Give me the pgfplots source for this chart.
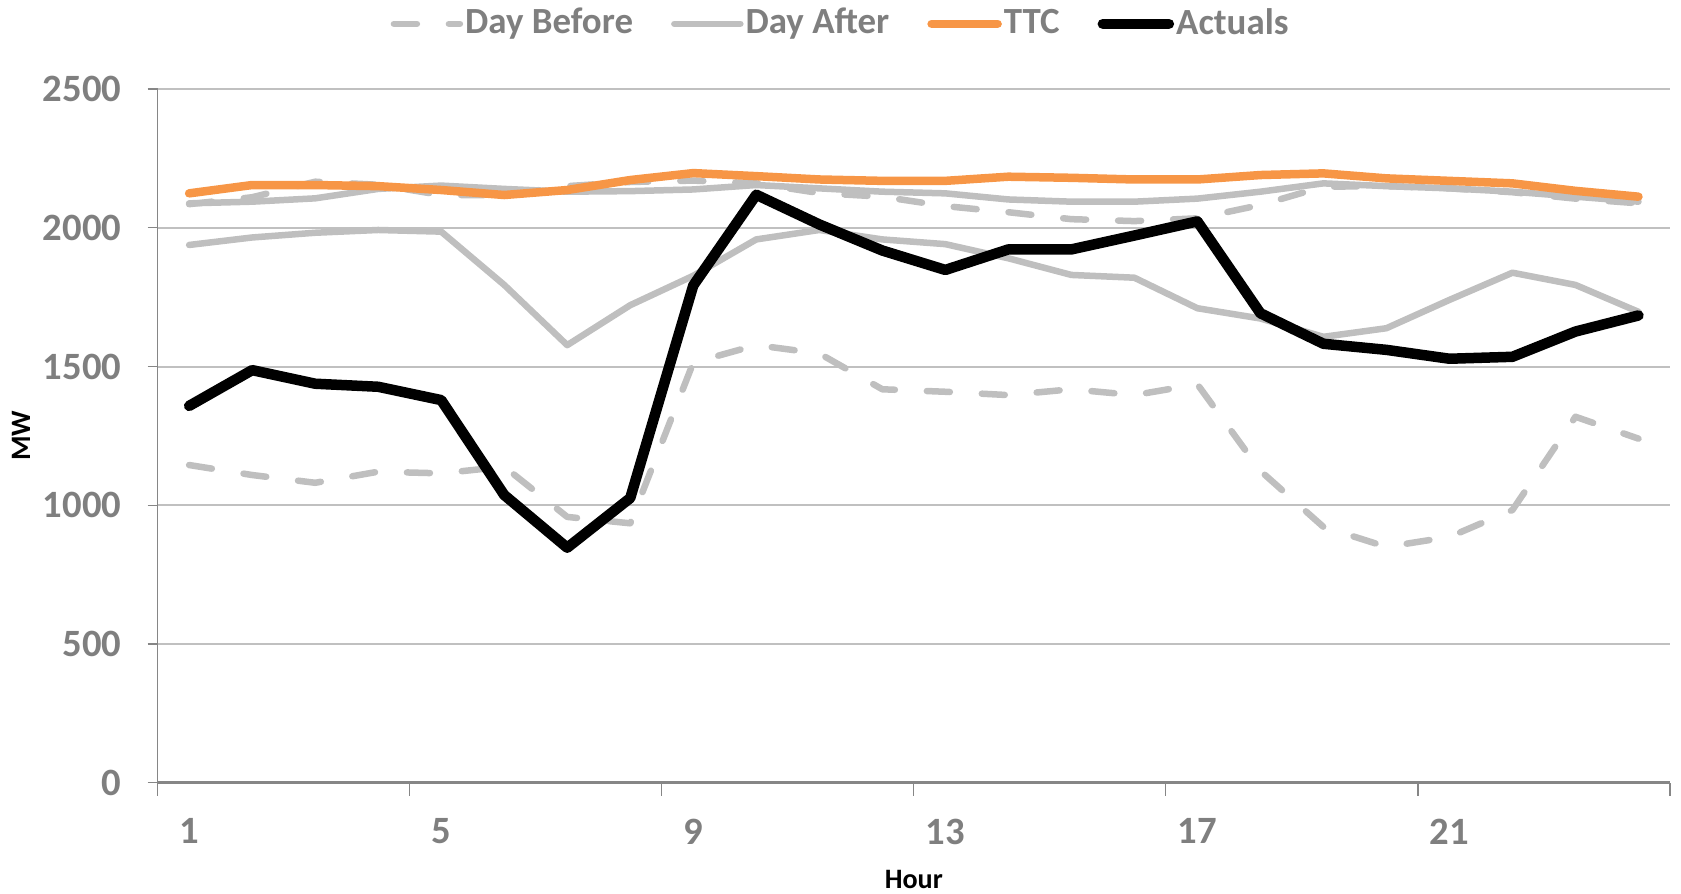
\documentclass[border=0pt]{standalone}
\usepackage{fontspec}
\setmainfont{Carlito}
\usepackage{pgfplots}
\usepackage{pgfplotstable}
\pgfplotsset{compat=1.18}
\pgfplotsset{legend image code/.code={\draw[#1] (0.3mm,0mm) -- (6.9mm,0mm);}}
\definecolor{ttc}{HTML}{F79646}
\definecolor{lgray}{HTML}{BFBFBF}
\definecolor{tgray}{HTML}{7F7F7F}
\definecolor{agray}{HTML}{868686}
\definecolor{gridc}{HTML}{C0C0C0}

\pgfplotstableread{
h  before after  beforeT afterT ttc  act
1  1145   1938   2085    2088   2124 1358
2  1109   1965   2110    2094   2154 1487
3  1081   1982   2166    2106   2154 1438
4  1121   1992   2155    2140   2150 1427
5  1115   1986   2118    2152   2136 1379
6  1139   1794   2118    2140   2118 1037
7  958    1577   2150    2130   2136 847
8  935    1721   2165    2132   2172 1026
9  1514   1827   2170    2138   2197 1792
10 1577   1958   2160    2154   2186 2119
11 1547   1992   2125    2142   2174 2012
12 1418   1958   2112    2130   2169 1918
13 1409   1941   2078    2124   2169 1848
14 1397   1890   2056    2102   2184 1922
15 1418   1830   2031    2094   2180 1922
16 1397   1820   2024    2094   2174 1972
17 1436   1710   2034    2105   2174 2023
18 1124   1673   2082    2130   2190 1692
19 922    1607   2148    2160   2196 1582
20 850    1638   2150    2150   2178 1560
21 886    1740   2142    2142   2169 1528
22 983    1838   2128    2130   2160 1535
23 1319   1794   2105    2112   2133 1626
24 1240   1697   2088    2094   2112 1684
}\data

\begin{document}
\begin{tikzpicture}
\begin{axis}[
  scale only axis, width=151.2mm, height=69.36mm,
  xmin=0.5, xmax=24.5, ymin=0, ymax=2500,
  axis x line*=bottom, axis y line*=left,
  x axis line style={-, draw=agray, line width=0.3mm},
  y axis line style={-, draw=agray, line width=0.12mm},
  xtick={1,5,9,13,17,21},
  minor xtick={0.5,4.5,8.5,12.5,16.5,20.5,24.5},
  ytick={0,500,1000,1500,2000,2500},
  tick align=outside,
  major tick length=1mm, minor tick length=1.3mm,
  x tick style={draw=agray, line width=0.12mm},
  major x tick style={draw=none},
  y tick style={draw=agray, line width=0.12mm},
  ymajorgrids, major grid style={draw=gridc, line width=0.2mm},
  /pgf/number format/assume math mode=true,
  /pgf/number format/1000 sep={},
  ticklabel style={font=\fontsize{11}{13}\selectfont\bfseries, text=tgray},
  xticklabel style={yshift=-1.35mm},
  yticklabel style={xshift=-1.4mm},
  xlabel={Hour},
  xlabel style={font=\fontsize{8}{10}\selectfont\bfseries, at={(axis description cs:0.5,-0.139)}, anchor=center},
  ylabel={MW},
  ylabel style={font=\fontsize{8}{10}\selectfont\bfseries, at={(axis description cs:-0.0903,0.5)}, anchor=center},
  legend style={at={(axis description cs:0.4516,1.094)}, anchor=center, draw=none, fill=none,
    legend columns=4, font=\fontsize{10.5}{12}\selectfont\bfseries, text=tgray,
    /tikz/every even column/.append style={column sep=3.6mm},
    nodes={inner sep=0.2mm}},
  legend cell align=left,
  every axis plot/.append style={line join=round, line cap=round},
]
\addplot[lgray, line width=0.65mm, dash pattern=on 2.3mm off 3.2mm] table[x=h, y=before] {\data};
\addlegendentry{Day Before}
\addplot[lgray, line width=0.65mm] table[x=h, y=after] {\data};
\addlegendentry{Day After}
\addplot[lgray, line width=0.65mm, dash pattern=on 2.3mm off 3.2mm, forget plot] table[x=h, y=beforeT] {\data};
\addplot[lgray, line width=0.65mm, forget plot] table[x=h, y=afterT] {\data};
\addplot[ttc, line width=0.85mm] table[x=h, y=ttc] {\data};
\addlegendentry{TTC}
\addplot[black, line width=1.05mm] table[x=h, y=act] {\data};
\addlegendentry{Actuals}
\coordinate (SW) at (rel axis cs:0,0);
\coordinate (NE) at (rel axis cs:1,1);
\end{axis}
\pgfresetboundingbox
\path[use as bounding box] ([shift={(-15.76mm,-11.04mm)}]SW) rectangle ([shift={(1.1mm,8.9mm)}]NE);
\end{tikzpicture}
\end{document}
